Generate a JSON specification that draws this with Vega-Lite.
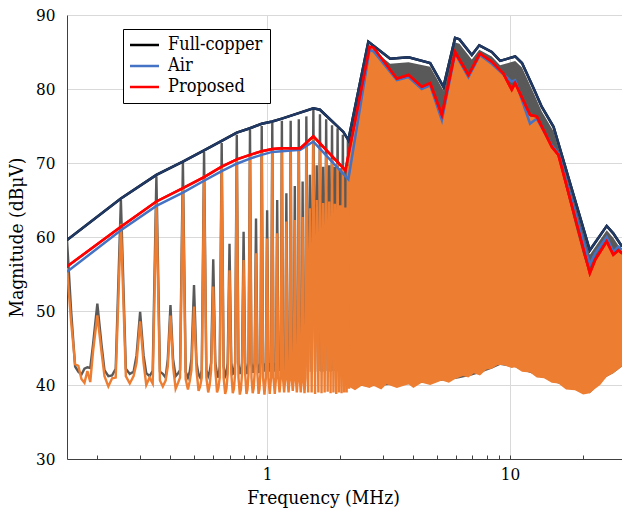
{
"$schema":"https://vega.github.io/schema/vega-lite/v6.json",
"width":555,"height":444,
"autosize":{"type":"none"},
"padding":{"left":67,"top":15,"right":0,"bottom":55},
"background":"white",
"config":{"view":{"stroke":null},"font":"DejaVu Serif Condensed, DejaVu Serif"},
"datasets":{
"raw":[
{"f":0.150,"g":59.6,"o":55.8},{"f":0.156,"g":50.0,"o":48.5},{"f":0.162,"g":42.5,"o":42.8},{"f":0.167,"g":41.8,"o":42.6},{"f":0.172,"g":41.4,"o":40.8},{"f":0.177,"g":42.2,"o":40.3},{"f":0.182,"g":42.4,"o":41.9},{"f":0.187,"g":42.3,"o":40.4},{"f":0.192,"g":45.5,"o":44.5},{"f":0.200,"g":51.0,"o":49.4},{"f":0.208,"g":45.5,"o":44.5},{"f":0.214,"g":42.0,"o":41.2},{"f":0.222,"g":41.2,"o":39.8},{"f":0.230,"g":41.3,"o":40.9},{"f":0.238,"g":42.2,"o":41.0},{"f":0.250,"g":65.0,"o":61.8},{"f":0.262,"g":42.2,"o":41.2},{"f":0.272,"g":41.5,"o":40.2},{"f":0.282,"g":41.8,"o":41.2},{"f":0.290,"g":44.0,"o":43.0},{"f":0.300,"g":49.9,"o":48.6},{"f":0.310,"g":44.0,"o":43.0},{"f":0.318,"g":41.6,"o":40.0},{"f":0.328,"g":41.2,"o":41.0},{"f":0.338,"g":41.9,"o":40.2},{"f":0.350,"g":68.2,"o":64.9},{"f":0.362,"g":41.8,"o":40.6},{"f":0.372,"g":41.5,"o":39.8},{"f":0.382,"g":41.0,"o":40.6},{"f":0.390,"g":43.5,"o":42.5},{"f":0.400,"g":50.8,"o":49.4},{"f":0.410,"g":43.5,"o":42.5},{"f":0.420,"g":41.2,"o":39.5},{"f":0.430,"g":41.6,"o":40.3},{"f":0.438,"g":42.0,"o":41.0},{"f":0.450,"g":70.2,"o":66.8},{"f":0.462,"g":41.8,"o":40.8},{"f":0.472,"g":41.0,"o":39.4},{"f":0.480,"g":41.8,"o":40.5},{"f":0.488,"g":43.5,"o":42.0},{"f":0.500,"g":53.5,"o":50.6},{"f":0.512,"g":43.0,"o":42.0},{"f":0.522,"g":41.4,"o":39.2},{"f":0.530,"g":41.0,"o":39.8},{"f":0.538,"g":42.0,"o":41.0},{"f":0.550,"g":71.5,"o":68.3},{"f":0.562,"g":42.0,"o":41.0},{"f":0.572,"g":41.2,"o":39.0},{"f":0.580,"g":41.8,"o":40.0},{"f":0.588,"g":43.0,"o":42.0},{"f":0.600,"g":57.0,"o":53.3},{"f":0.612,"g":43.0,"o":42.0},{"f":0.622,"g":41.5,"o":39.0},{"f":0.630,"g":41.0,"o":39.6},{"f":0.638,"g":42.5,"o":41.0},{"f":0.650,"g":72.7,"o":69.6},{"f":0.662,"g":42.5,"o":41.0},{"f":0.672,"g":41.2,"o":38.8},{"f":0.680,"g":41.6,"o":39.5},{"f":0.688,"g":43.0,"o":41.5},{"f":0.700,"g":59.1,"o":55.5},{"f":0.712,"g":43.0,"o":41.5},{"f":0.722,"g":41.5,"o":38.9},{"f":0.730,"g":41.6,"o":39.5},{"f":0.738,"g":43.0,"o":41.5},{"f":0.750,"g":73.8,"o":70.6},{"f":0.762,"g":42.8,"o":41.0},{"f":0.772,"g":41.6,"o":38.7},{"f":0.780,"g":41.6,"o":39.4},{"f":0.788,"g":43.0,"o":41.5},{"f":0.800,"g":60.7,"o":56.9},{"f":0.812,"g":43.0,"o":41.5},{"f":0.822,"g":41.6,"o":38.8},{"f":0.830,"g":41.6,"o":39.4},{"f":0.838,"g":43.0,"o":41.5},{"f":0.850,"g":74.5,"o":71.2},{"f":0.862,"g":43.0,"o":41.0},{"f":0.872,"g":41.8,"o":38.9},{"f":0.880,"g":41.8,"o":39.5},{"f":0.888,"g":43.0,"o":41.5},{"f":0.900,"g":62.5,"o":57.8},{"f":0.912,"g":43.0,"o":41.5},{"f":0.922,"g":41.8,"o":38.8},{"f":0.930,"g":41.8,"o":39.4},{"f":0.938,"g":43.0,"o":41.5},{"f":0.950,"g":75.0,"o":71.6},{"f":0.962,"g":43.0,"o":41.0},{"f":0.975,"g":41.8,"o":38.7},{"f":0.988,"g":43.0,"o":41.0},{"f":1.000,"g":63.6,"o":59.8},{"f":1.012,"g":43.0,"o":41.0},{"f":1.025,"g":41.8,"o":38.8},{"f":1.038,"g":43.0,"o":41.0},{"f":1.050,"g":75.4,"o":71.9},{"f":1.062,"g":43.0,"o":41.0},{"f":1.075,"g":41.8,"o":38.8},{"f":1.088,"g":43.0,"o":41.0},{"f":1.100,"g":65.0,"o":60.5},{"f":1.112,"g":43.0,"o":41.0},{"f":1.125,"g":41.9,"o":39.0},{"f":1.138,"g":43.0,"o":41.0},
{"f":1.150,"g":75.7,"o":71.8},{"f":1.162,"g":43.0,"o":41.0},{"f":1.175,"g":41.8,"o":39.0},{"f":1.188,"g":43.0,"o":41.0},{"f":1.200,"g":65.9,"o":62.1},{"f":1.212,"g":43.0,"o":41.0},{"f":1.225,"g":41.8,"o":39.0},{"f":1.238,"g":43.0,"o":41.0},{"f":1.250,"g":75.7,"o":71.9},{"f":1.262,"g":43.0,"o":41.0},{"f":1.275,"g":41.8,"o":39.2},{"f":1.288,"g":43.0,"o":41.0},{"f":1.300,"g":66.9,"o":62.3},{"f":1.312,"g":43.0,"o":41.0},{"f":1.325,"g":41.8,"o":39.0},{"f":1.338,"g":43.0,"o":41.0},{"f":1.350,"g":75.9,"o":71.9},{"f":1.362,"g":43.0,"o":41.0},{"f":1.375,"g":41.8,"o":39.0},{"f":1.388,"g":43.0,"o":41.0},{"f":1.400,"g":67.5,"o":62.7},{"f":1.412,"g":43.0,"o":41.0},{"f":1.425,"g":41.8,"o":38.9},{"f":1.438,"g":43.0,"o":41.0},
{"f":1.450,"g":76.3,"o":72.5},{"f":1.475,"g":41.8,"o":39.0},{"f":1.500,"g":68.4,"o":63.9},{"f":1.525,"g":41.8,"o":39.0},{"f":1.550,"g":77.4,"o":73.3},{"f":1.575,"g":41.8,"o":38.8},{"f":1.600,"g":69.7,"o":65.0},{"f":1.625,"g":41.9,"o":39.0},{"f":1.650,"g":76.6,"o":72.2},{"f":1.675,"g":41.8,"o":38.9},{"f":1.700,"g":69.5,"o":64.6},{"f":1.725,"g":41.8,"o":39.0},{"f":1.750,"g":75.9,"o":71.2},{"f":1.775,"g":41.9,"o":39.1},{"f":1.800,"g":69.7,"o":64.8},{"f":1.825,"g":41.8,"o":38.9},{"f":1.850,"g":75.1,"o":70.5},{"f":1.875,"g":41.9,"o":39.0},{"f":1.900,"g":69.5,"o":64.5},{"f":1.925,"g":41.8,"o":38.8},{"f":1.950,"g":74.7,"o":69.9},{"f":1.975,"g":41.9,"o":39.0},{"f":2.000,"g":69.3,"o":64.3},{"f":2.025,"g":41.8,"o":38.9},{"f":2.050,"g":73.8,"o":69.2},{"f":2.075,"g":41.9,"o":39.0},{"f":2.100,"g":69.3,"o":64.0},{"f":2.125,"g":41.8,"o":39.0},{"f":2.150,"g":73.1,"o":69.6},{"f":2.175,"g":41.5,"o":39.5}
],
"gdense":[
{"f":2.16,"v2":40.0,"v":72.8},{"f":2.61,"v2":39.8,"v":85.8},{"f":3.21,"v2":40.0,"v":83.4},{"f":3.82,"v2":40.1,"v":83.6},{"f":4.69,"v2":40.4,"v":83.0},{"f":5.32,"v2":40.6,"v":79.8},{"f":5.94,"v2":40.8,"v":86.3},{"f":6.19,"v2":40.9,"v":86.1},{"f":6.96,"v2":41.3,"v":84.0},{"f":7.47,"v2":41.6,"v":85.3},{"f":8.41,"v2":42.2,"v":84.4},{"f":9.10,"v2":42.7,"v":83.2},{"f":10.5,"v2":42.4,"v":83.8},{"f":11.2,"v2":42.0,"v":82.9},{"f":12.5,"v2":41.5,"v":79.5},{"f":13.5,"v2":41.1,"v":77.0},{"f":15.1,"v2":40.4,"v":74.3},{"f":21.3,"v2":38.9,"v":57.6},{"f":25.0,"v2":41.1,"v":60.9},{"f":26.6,"v2":41.6,"v":59.9},{"f":28.9,"v2":42.5,"v":58.1}
],
"odense":[
{"f":2.16,"v2":39.8,"v":71.0},{"f":2.3,"v2":39.3,"v":76.0},{"f":2.45,"v2":39.9,"v":80.6},{"f":2.64,"v2":39.6,"v":85.5},{"f":2.74,"v2":39.9,"v":85.4},{"f":2.95,"v2":39.4,"v":84.1},{"f":3.1,"v2":40.1,"v":83.1},{"f":3.42,"v2":39.6,"v":81.2},{"f":3.82,"v2":40.1,"v":81.7},{"f":4.0,"v2":39.6,"v":81.1},{"f":4.33,"v2":40.3,"v":80.1},{"f":4.69,"v2":40.0,"v":80.6},{"f":5.24,"v2":40.6,"v":76.3},{"f":5.6,"v2":40.3,"v":80.7},{"f":5.94,"v2":40.8,"v":84.8},{"f":6.4,"v2":41.2,"v":83.2},{"f":6.74,"v2":41.0,"v":81.7},{"f":7.1,"v2":41.6,"v":83.2},{"f":7.52,"v2":41.3,"v":84.6},{"f":8.0,"v2":42.1,"v":84.1},{"f":8.41,"v2":42.2,"v":83.5},{"f":8.9,"v2":42.7,"v":82.8},{"f":9.38,"v2":42.7,"v":81.9},{"f":10.16,"v2":42.3,"v":79.7},{"f":10.49,"v2":42.4,"v":80.6},{"f":11.2,"v2":41.8,"v":78.9},{"f":12.09,"v2":41.7,"v":76.3},{"f":12.88,"v2":41.0,"v":76.1},{"f":13.8,"v2":40.9,"v":74.1},{"f":14.85,"v2":40.3,"v":72.0},{"f":15.81,"v2":40.2,"v":70.9},{"f":17.0,"v2":39.4,"v":66.6},{"f":18.5,"v2":39.3,"v":61.8},{"f":20.0,"v2":38.7,"v":57.6},{"f":21.3,"v2":38.9,"v":54.9},{"f":22.4,"v2":39.5,"v":56.7},{"f":23.5,"v2":40.0,"v":57.9},{"f":25.0,"v2":41.1,"v":59.2},{"f":26.6,"v2":41.6,"v":57.4},{"f":27.9,"v2":42.1,"v":58.0},{"f":28.9,"v2":42.5,"v":57.6}
],
"env":[
{"s":"Full-copper","f":0.15,"v":59.6},{"s":"Full-copper","f":0.25,"v":65.2},{"s":"Full-copper","f":0.35,"v":68.4},{"s":"Full-copper","f":0.45,"v":70.2},{"s":"Full-copper","f":0.55,"v":71.7},{"s":"Full-copper","f":0.65,"v":73.0},{"s":"Full-copper","f":0.75,"v":74.1},{"s":"Full-copper","f":0.85,"v":74.7},{"s":"Full-copper","f":0.95,"v":75.3},{"s":"Full-copper","f":1.05,"v":75.6},{"s":"Full-copper","f":1.15,"v":76.0},{"s":"Full-copper","f":1.55,"v":77.4},{"s":"Full-copper","f":1.65,"v":77.2},{"s":"Full-copper","f":2.06,"v":74.2},{"s":"Full-copper","f":2.16,"v":73.1},{"s":"Full-copper","f":2.61,"v":86.4},{"s":"Full-copper","f":3.21,"v":84.1},{"s":"Full-copper","f":3.82,"v":84.3},{"s":"Full-copper","f":4.69,"v":83.5},{"s":"Full-copper","f":5.32,"v":80.3},{"s":"Full-copper","f":5.94,"v":86.9},{"s":"Full-copper","f":6.19,"v":86.7},{"s":"Full-copper","f":6.96,"v":84.6},{"s":"Full-copper","f":7.47,"v":85.9},{"s":"Full-copper","f":8.41,"v":85.0},{"s":"Full-copper","f":9.10,"v":83.8},{"s":"Full-copper","f":10.5,"v":84.4},{"s":"Full-copper","f":11.2,"v":83.5},{"s":"Full-copper","f":12.5,"v":80.1},{"s":"Full-copper","f":13.5,"v":77.6},{"s":"Full-copper","f":15.1,"v":74.9},{"s":"Full-copper","f":21.3,"v":58.2},{"s":"Full-copper","f":25.0,"v":61.5},{"s":"Full-copper","f":26.6,"v":60.5},{"s":"Full-copper","f":28.9,"v":58.7},
{"s":"Air","f":0.15,"v":55.3},{"s":"Air","f":0.25,"v":60.9},{"s":"Air","f":0.35,"v":64.2},{"s":"Air","f":0.45,"v":66.0},{"s":"Air","f":0.55,"v":67.6},{"s":"Air","f":0.65,"v":68.9},{"s":"Air","f":0.75,"v":69.9},{"s":"Air","f":0.85,"v":70.6},{"s":"Air","f":0.95,"v":71.1},{"s":"Air","f":1.05,"v":71.5},{"s":"Air","f":1.15,"v":71.6},{"s":"Air","f":1.37,"v":71.8},{"s":"Air","f":1.55,"v":72.9},{"s":"Air","f":2.16,"v":67.8},{"s":"Air","f":2.64,"v":85.3},{"s":"Air","f":2.74,"v":85.1},{"s":"Air","f":3.42,"v":81.2},{"s":"Air","f":3.82,"v":81.6},{"s":"Air","f":4.33,"v":80.0},{"s":"Air","f":4.69,"v":80.5},{"s":"Air","f":5.24,"v":75.8},{"s":"Air","f":5.94,"v":84.8},{"s":"Air","f":6.74,"v":81.6},{"s":"Air","f":7.52,"v":84.6},{"s":"Air","f":8.41,"v":83.4},{"s":"Air","f":9.38,"v":82.0},{"s":"Air","f":10.16,"v":81.0},{"s":"Air","f":10.49,"v":81.2},{"s":"Air","f":12.09,"v":75.3},{"s":"Air","f":12.88,"v":76.0},{"s":"Air","f":14.85,"v":72.4},{"s":"Air","f":15.81,"v":71.3},{"s":"Air","f":21.3,"v":56.3},{"s":"Air","f":22.4,"v":57.8},{"s":"Air","f":25.0,"v":60.0},{"s":"Air","f":26.6,"v":58.0},{"s":"Air","f":27.9,"v":58.7},{"s":"Air","f":28.9,"v":58.3},
{"s":"Proposed","f":0.15,"v":56.0},{"s":"Proposed","f":0.25,"v":61.4},{"s":"Proposed","f":0.35,"v":64.8},{"s":"Proposed","f":0.45,"v":66.6},{"s":"Proposed","f":0.55,"v":68.1},{"s":"Proposed","f":0.65,"v":69.5},{"s":"Proposed","f":0.75,"v":70.5},{"s":"Proposed","f":0.85,"v":71.1},{"s":"Proposed","f":0.95,"v":71.6},{"s":"Proposed","f":1.05,"v":71.9},{"s":"Proposed","f":1.15,"v":72.0},{"s":"Proposed","f":1.37,"v":72.0},{"s":"Proposed","f":1.55,"v":73.6},{"s":"Proposed","f":2.10,"v":69.0},{"s":"Proposed","f":2.64,"v":85.7},{"s":"Proposed","f":2.74,"v":85.6},{"s":"Proposed","f":3.42,"v":81.4},{"s":"Proposed","f":3.82,"v":81.9},{"s":"Proposed","f":4.33,"v":80.3},{"s":"Proposed","f":4.69,"v":80.8},{"s":"Proposed","f":5.24,"v":76.5},{"s":"Proposed","f":5.94,"v":85.0},{"s":"Proposed","f":6.74,"v":81.9},{"s":"Proposed","f":7.52,"v":84.8},{"s":"Proposed","f":8.41,"v":83.7},{"s":"Proposed","f":9.38,"v":82.1},{"s":"Proposed","f":10.16,"v":79.9},{"s":"Proposed","f":10.49,"v":80.8},{"s":"Proposed","f":12.09,"v":76.5},{"s":"Proposed","f":12.88,"v":76.3},{"s":"Proposed","f":14.85,"v":72.2},{"s":"Proposed","f":15.81,"v":71.1},{"s":"Proposed","f":21.3,"v":55.1},{"s":"Proposed","f":22.4,"v":56.9},{"s":"Proposed","f":25.0,"v":59.4},{"s":"Proposed","f":26.6,"v":57.6},{"s":"Proposed","f":27.9,"v":58.2},{"s":"Proposed","f":28.9,"v":57.8}
]
},
"encoding":{
"x":{"field":"f","type":"quantitative","scale":{"type":"log","domain":[0.15,28.9],"nice":false},
"axis":{"title":"Frequency (MHz)","values":[0.2,0.3,0.4,0.5,0.6,0.7,0.8,0.9,1,2,3,4,5,6,7,8,9,10,20],
"labelExpr":"(datum.value == 1 || datum.value == 10) ? datum.label : ''",
"grid":true,"gridColor":"#d9d9d9","gridOpacity":{"condition":{"test":"datum.value == 1 || datum.value == 10","value":1},"value":0},
"tickSize":-4,"tickColor":"#404040","labelPadding":11,"labelFontSize":17,"labelColor":"black","labelOverlap":false,"labelFlush":false,
"domainColor":"#404040","titleFontSize":19,"titleFontWeight":"normal","titleColor":"black","titleX":256,"titleY":44,"titleBaseline":"alphabetic"}},
"y":{"field":"v","type":"quantitative","scale":{"domain":[30,90],"nice":false,"zero":false},
"axis":{"title":"Magnitude (dBμV)","values":[30,40,50,60,70,80,90],"grid":true,"gridColor":"#d9d9d9","tickSize":0,"labelPadding":12,"labelFontSize":17,"labelColor":"black","domainColor":"#404040","titleFontSize":19,"titleFontWeight":"normal","titleColor":"black","titlePadding":9}}
},
"layer":[
{"data":{"name":"gdense"},"mark":{"type":"area","color":"#595959","clip":true},"encoding":{"y2":{"field":"v2"}}},
{"data":{"name":"raw"},"transform":[{"fold":["g"],"as":["k","v"]}],"mark":{"type":"line","color":"#595959","strokeWidth":2.4,"clip":true}},
{"data":{"name":"odense"},"mark":{"type":"area","color":"#ED7D31","clip":true},"encoding":{"y2":{"field":"v2"}}},
{"data":{"name":"raw"},"transform":[{"fold":["o"],"as":["k","v"]}],"mark":{"type":"line","color":"#ED7D31","strokeWidth":2.4,"clip":true}},
{"data":{"name":"env"},"mark":{"type":"line","strokeWidth":2.5,"clip":true},
"encoding":{"color":{"field":"s","type":"nominal","scale":{"domain":["Full-copper","Air","Proposed"],"range":["black","#4472C4","#FF0000"]},
"legend":{"orient":"none","legendX":56,"legendY":14,"title":null,"strokeColor":"black","fillColor":"white","padding":7,"symbolType":"M-1.8,0H4","symbolSize":100,"symbolStrokeWidth":2.5,"labelFontSize":18,"labelColor":"black","labelOffset":20,"rowPadding":3,"labelExpr":"datum.label + '\u2003\u2003'"}}}},
{"data":{"name":"env"},"transform":[{"filter":"datum.s == 'Full-copper'"}],"mark":{"type":"line","strokeWidth":2.5,"color":"#1F3864","clip":true}},
{"data":{"name":"env"},"transform":[{"filter":"datum.s == 'Proposed'"}],"mark":{"type":"line","strokeWidth":2.5,"color":"#FF0000","clip":true}}
]
}
